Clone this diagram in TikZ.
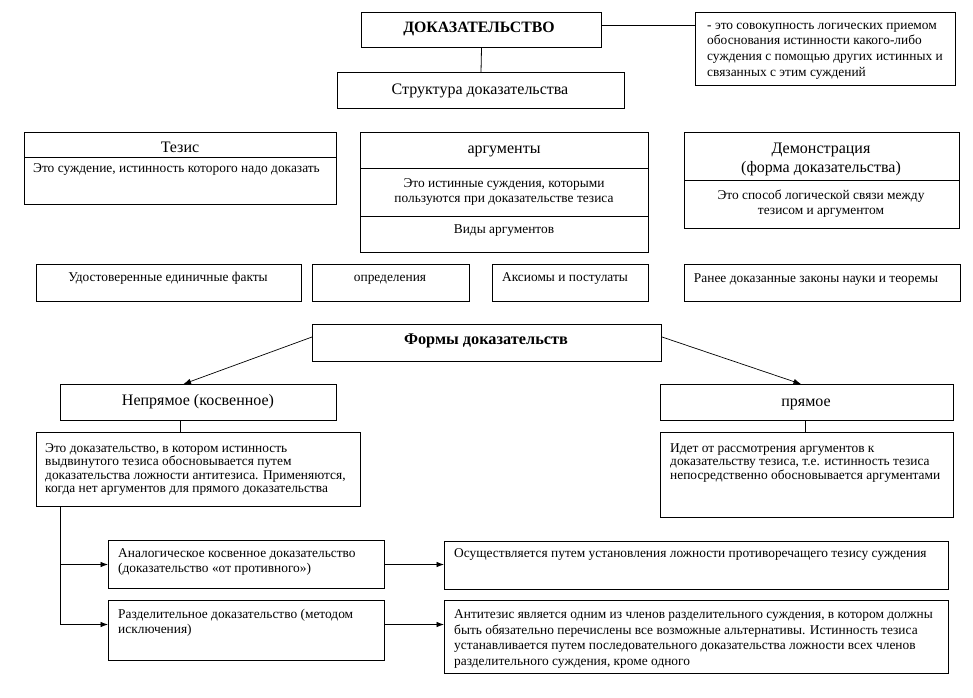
\documentclass[tikz,border=0pt]{standalone}
\usepackage{fontspec}
\setmainfont{Liberation Serif}
\usetikzlibrary{arrows.meta}
\newcommand\fsm{\fontsize{13.4}{15}\selectfont}
\newcommand\fdf{\fontsize{13.4}{15.7}\selectfont}
\newcommand\fti{\fontsize{13.4}{13.5}\selectfont}
\newcommand\fan{\fontsize{13.4}{15.5}\selectfont}
\newcommand\fbg{\fontsize{16}{19}\selectfont}
\newcommand\fbb{\fontsize{15.8}{19}\selectfont\bfseries}
\newcommand\fbc{\fontsize{16.3}{19}\selectfont\bfseries}
\newcommand\hs{\rule{0pt}{10pt}}
\tikzset{
  box/.style={draw, line width=1pt, anchor=north west, inner sep=0pt},
  txt/.style={inner sep=0pt, font=\fsm},
  big/.style={inner sep=0pt, font=\fbg},
  ml/.style={inner sep=0pt, anchor=north west, align=left},
  mc/.style={inner sep=0pt, anchor=north, align=center},
  con/.style={line width=0.8pt},
  arr/.style={line width=0.7pt, -{Latex[length=7.5pt,width=5.5pt]}}
}
\begin{document}
\begin{tikzpicture}[x=1pt,y=-1pt]
\useasboundingbox[fill=white] (0,0) rectangle (973,697);
% boxes
\node[box, minimum width=240pt, minimum height=35pt] (dok) at (361,12) {};
\node[box, minimum width=260pt, minimum height=73pt] (def) at (695,12) {};
\node[box, minimum width=287pt, minimum height=36pt] (str) at (337,72) {};
\node[box, minimum width=312pt, minimum height=72pt] (tz) at (24,132) {};
\node[box, minimum width=288pt, minimum height=120pt] (arg) at (360,132) {};
\node[box, minimum width=275pt, minimum height=96pt] (dem) at (684,132) {};
\node[box, minimum width=265pt, minimum height=37pt] (fa) at (36,264) {};
\node[box, minimum width=157pt, minimum height=37pt] (fb) at (312,264) {};
\node[box, minimum width=156pt, minimum height=37pt] (fc) at (492,264) {};
\node[box, minimum width=276pt, minimum height=37pt] (fd) at (684,264) {};
\node[box, minimum width=349pt, minimum height=37pt] (frm) at (312,324) {};
\node[box, minimum width=276pt, minimum height=36pt] (np) at (60,384) {};
\node[box, minimum width=293pt, minimum height=36pt] (pr) at (660,384) {};
\node[box, minimum width=324pt, minimum height=74pt] (npd) at (36,432) {};
\node[box, minimum width=293pt, minimum height=85pt] (prd) at (660,432) {};
\node[box, minimum width=276pt, minimum height=48pt] (an) at (108,540) {};
\node[box, minimum width=276pt, minimum height=60pt] (rz) at (108,600) {};
\node[box, minimum width=504pt, minimum height=48pt] (os) at (444,541) {};
\node[box, minimum width=504pt, minimum height=73pt] (at) at (444,600) {};
% dividers
\draw[line width=1pt] ([yshift=-25pt]tz.north west) -- ([yshift=-25pt]tz.north east);
\draw[line width=1pt] ([yshift=-36pt]arg.north west) -- ([yshift=-36pt]arg.north east);
\draw[line width=1pt] ([yshift=-84pt]arg.north west) -- ([yshift=-84pt]arg.north east);
\draw[line width=1pt] ([yshift=-48pt]dem.north west) -- ([yshift=-48pt]dem.north east);
% texts
\node[inner sep=0pt, font=\fbb, anchor=base] (t1) at (479,32.5) {ДОКАЗАТЕЛЬСТВО};
\node[ml, font=\fdf] (t2) at (707,19) {\hs- это совокупность логических приемом\\обоснования истинности какого-либо\\суждения с помощью других истинных и\\связанных с этим суждений};
\node[big, anchor=base] (t3) at (480,94) {Структура доказательства};
\node[big, anchor=base] (t4) at (180,152) {Тезис};
\node[txt, anchor=base west] (t5) at (33,172.5) {Это суждение, истинность которого надо доказать};
\node[big, anchor=base] (t6) at (504,153) {аргументы};
\node[mc, font=\fsm] (t7) at (504,177.5) {\hs Это истинные суждения, которыми\\пользуются при доказательстве тезиса};
\node[txt, anchor=base] (t8) at (504,233.5) {Виды аргументов};
\node[mc, font=\fbg] (t9) at (821,142.5) {\hs Демонстрация\\(форма доказательства)};
\node[mc, font=\fsm] (t10) at (821,189.5) {\hs Это способ логической связи между\\тезисом и аргументом};
\node[txt, anchor=base] (t11) at (168,281.5) {Удостоверенные единичные факты};
\node[txt, anchor=base] (t12) at (390,281.5) {определения};
\node[txt, anchor=base] (t13) at (565,281.5) {Аксиомы и постулаты};
\node[txt, anchor=base] (t14) at (816,282.5) {Ранее доказанные законы науки и теоремы};
\node[inner sep=0pt, font=\fbc, anchor=base] (t15) at (486,344.5) {Формы доказательств};
\node[big, anchor=base] (t16) at (198,405) {Непрямое (косвенное)};
\node[big, anchor=base] (t17) at (806,406) {прямое};
\node[ml, font=\fti] (t18) at (45,442) {\hs Это доказательство, в котором истинность\\выдвинутого тезиса обосновывается путем\\доказательства ложности антитезиса. Применяются,\\когда нет аргументов для прямого доказательства};
\node[ml, font=\fti] (t19) at (670,442) {\hs Идет от рассмотрения аргументов к\\доказательству тезиса, т.е. истинность тезиса\\непосредственно обосновывается аргументами};
\node[ml, font=\fsm] (t20) at (118,547.5) {\hs Аналогическое косвенное доказательство\\(доказательство «от противного»)};
\node[ml, font=\fsm] (t21) at (118,608.5) {\hs Разделительное доказательство (методом\\исключения)};
\node[txt, anchor=base west] (t22) at (454,557.5) {Осуществляется путем установления ложности противоречащего тезису суждения};
\node[ml, font=\fan] (t23) at (454,608.5) {\hs Антитезис является одним из членов разделительного суждения, в котором должны\\быть обязательно перечислены все возможные альтернативы. Истинность тезиса\\устанавливается путем последовательного доказательства ложности всех членов\\разделительного суждения, кроме одного};
% connectors
\draw[con] ([yshift=4.5pt]dok.east) -- ([yshift=4.5pt]dok.east -| def.west);
\draw[con] (dok.south) -- (str.north);
\draw[arr] ([yshift=6pt]frm.west) -- ([xshift=-15pt]np.north);
\draw[arr] ([yshift=6pt]frm.east) -- ([xshift=-6pt]pr.north);
\draw[con] ([xshift=-18pt]np.south) -- ([xshift=-18pt]npd.north);
\draw[con] ([xshift=-2pt]pr.south) -- ([xshift=-2pt]prd.north);
\coordinate (tr) at ([xshift=24pt]npd.south west);
\draw[con] (tr) -- ([yshift=6pt]tr |- rz.west);
\draw[arr] (tr |- an.west) -- (an.west);
\draw[arr] ([yshift=6pt]tr |- rz.west) -- ([yshift=6pt]rz.west);
\draw[arr] (an.east) -- (an.east -| os.west);
\draw[arr] ([yshift=6pt]rz.east) -- ([yshift=6pt]rz.east -| at.west);
\end{tikzpicture}
\end{document}
